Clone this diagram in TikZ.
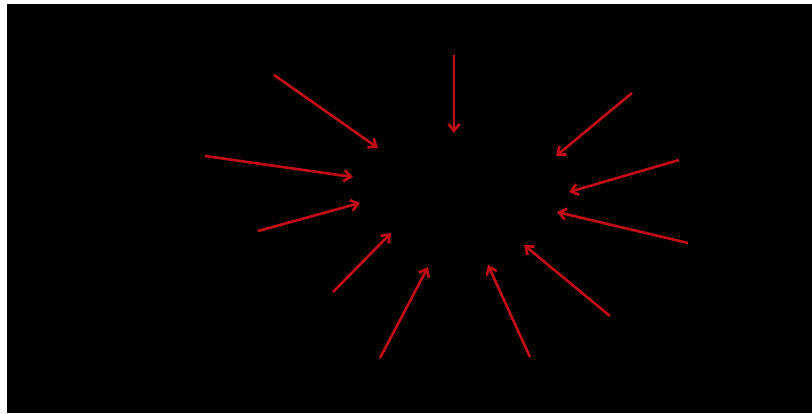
\documentclass[tikz,border=0pt]{standalone}
\usetikzlibrary{arrows.meta}
\definecolor{arrowred}{RGB}{196,12,22}
\begin{document}
\begin{tikzpicture}[x=1pt,y=-1pt,
  ray/.style={draw=arrowred,line width=2.6pt,-{Straight Barb[length=7pt,width=11pt,line width=2.6pt]}}]
\useasboundingbox (0,0) rectangle (812,413);
\fill[white] (0,0) rectangle (812,413);
\fill[black] (7,4) rectangle (812,413);
\coordinate (t1) at (274,75);  \coordinate (h1) at (378,148);
\coordinate (t2) at (454,55);  \coordinate (h2) at (454,133);
\coordinate (t3) at (632,93);  \coordinate (h3) at (556,156);
\coordinate (t4) at (205,156); \coordinate (h4) at (353,177);
\coordinate (t5) at (679,160); \coordinate (h5) at (569,192);
\coordinate (t6) at (258,231); \coordinate (h6) at (360,203);
\coordinate (t7) at (688,243); \coordinate (h7) at (557,212);
\coordinate (t8) at (333,292); \coordinate (h8) at (391,233);
\coordinate (t9) at (610,316); \coordinate (h9) at (524,245);
\coordinate (t10) at (380,358); \coordinate (h10) at (428,267);
\coordinate (t11) at (530,357); \coordinate (h11) at (488,265);
\foreach \i in {1,...,11} \draw[ray] (t\i) -- (h\i);
\end{tikzpicture}
\end{document}
